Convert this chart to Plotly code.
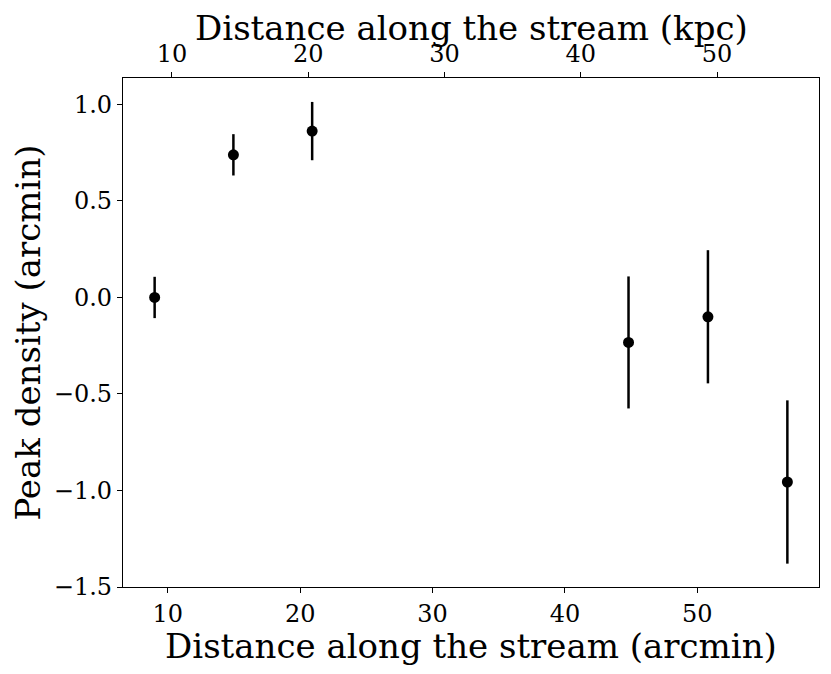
import plotly.graph_objects as go

# Peak offsets along the stream.
dist_arcmin = [9.0, 14.95, 20.9, 44.8, 50.8, 56.8]
peak_density = [0.0, 0.739, 0.862, -0.233, -0.10, -0.956]
peak_err = [0.107, 0.107, 0.151, 0.342, 0.345, 0.423]

x_range = [6.61, 59.19]
kpc_range = [6.41, 57.48]
y_range = [-1.50, 1.137]

FONT = "DejaVu Serif"
TITLE_SIZE = 34

fig = go.Figure()

fig.add_trace(
    go.Scatter(
        x=dist_arcmin,
        y=peak_density,
        mode="markers",
        marker=dict(color="black", size=11),
        error_y=dict(type="data", array=peak_err, color="black", thickness=2.5, width=0),
        showlegend=False,
    )
)

# invisible trace so the kpc axis gets drawn
fig.add_trace(
    go.Scatter(x=kpc_range, y=[None, None], xaxis="x2", mode="markers", showlegend=False)
)

axis_common = dict(
    showgrid=False,
    zeroline=False,
    showline=True,
    linecolor="black",
    linewidth=1.3,
    ticks="outside",
    ticklen=5,
    tickwidth=1.2,
    tickcolor="black",
    automargin=False,
    tickfont=dict(family=FONT, size=24, color="black"),
)

# page body adds ~8px on top/left, so the figure is a bit smaller than the window
fig.update_layout(
    width=823,
    height=666,
    paper_bgcolor="white",
    plot_bgcolor="white",
    margin=dict(l=115, r=12, t=70, b=87),
    font=dict(family=FONT, color="black"),
    xaxis=dict(range=x_range, tickvals=[10, 20, 30, 40, 50], mirror=True, **axis_common),
    xaxis2=dict(
        range=kpc_range,
        tickvals=[10, 20, 30, 40, 50],
        overlaying="x",
        side="top",
        **axis_common,
    ),
    yaxis=dict(
        range=y_range,
        tickvals=[-1.5, -1.0, -0.5, 0.0, 0.5, 1.0],
        ticktext=["\u22121.5", "\u22121.0", "\u22120.5", "0.0", "0.5", "1.0"],
        mirror=True,
        **axis_common,
    ),
)

title_font = dict(family=FONT, size=TITLE_SIZE, color="black")
fig.add_annotation(
    text="Distance along the stream (arcmin)", xref="paper", yref="paper",
    x=0.5, y=0, yanchor="middle", yshift=-59, showarrow=False, font=title_font,
    borderpad=0,
)
fig.add_annotation(
    text="Distance along the stream (kpc)", xref="paper", yref="paper",
    x=0.5, y=1, yanchor="middle", yshift=50, showarrow=False, font=title_font,
    borderpad=0,
)
fig.add_annotation(
    text="Peak density (arcmin)", xref="paper", yref="paper",
    x=0, y=0.5, xanchor="center", xshift=-96, textangle=-90, showarrow=False,
    font=title_font, borderpad=0,
)

fig.write_html("out.html")
